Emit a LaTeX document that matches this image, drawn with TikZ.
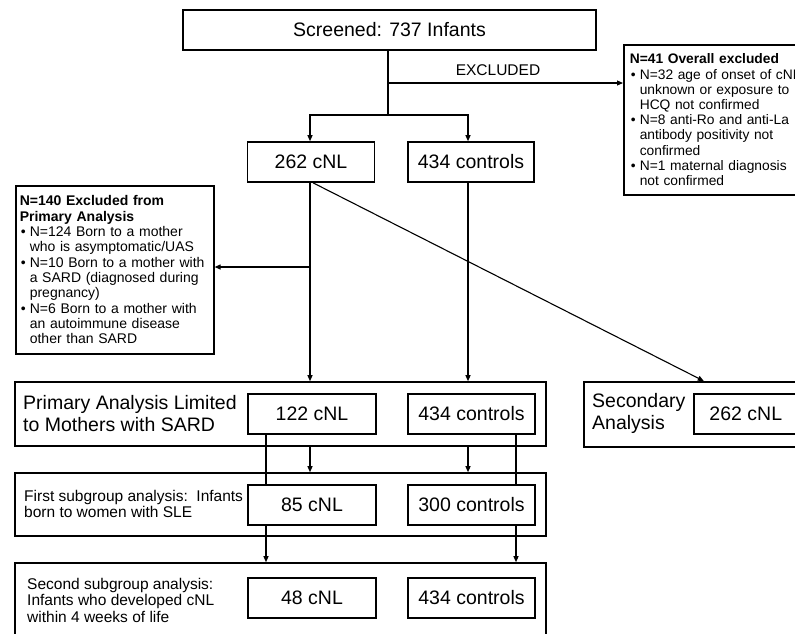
\documentclass[tikz,border=0pt]{standalone}
\usepackage{fontspec}
\setmainfont{Liberation Sans}
\usetikzlibrary{arrows.meta}
\newcommand{\bitem}[1]{\par\noindent\hangindent=10pt\hangafter=1\makebox[10pt][l]{\hspace{1pt}\textbullet}#1\par}
\begin{document}
\begin{tikzpicture}[x=1pt,y=-1pt,
  box/.style={draw,line width=1.6pt,fill=white,inner sep=0pt},
  conn/.style={line width=1.1pt},
  arr/.style={conn,-{Triangle[length=6pt,width=5pt]}},
  big/.style={font=\fontsize{19.5}{22}\selectfont},
  mid/.style={font=\fontsize{15.5}{16.5}\selectfont},
  small/.style={font=\fontsize{13.8}{15.2}\selectfont},
  cell/.style={box,big,minimum width=127pt,minimum height=40pt},
  lab/.style={anchor=west,align=left,inner sep=0pt}]
\useasboundingbox (0,0) rectangle (795,633);
\clip (0,0) rectangle (795,633);

% top
\node[box,big,minimum width=413pt,minimum height=40pt] (scr) at (389.5,30) {Screened: 737 Infants};
\node[cell] (cnlA) at (311,162) {262 cNL};
\node[cell,minimum width=126pt] (ctlA) at (471,162) {434 controls};

\node[box,small,anchor=north west,text width=195pt,inner xsep=6pt,inner ysep=0pt,minimum height=150pt,align=left] (exr) at (623,44)
{\textbf{N=41 Overall excluded}
\bitem{N=32 age of onset of cNL\newline unknown or exposure to\newline HCQ not confirmed}
\bitem{N=8 anti-Ro and anti-La\newline antibody positivity not\newline confirmed}
\bitem{N=1 maternal diagnosis\newline not confirmed}};

\node[box,font=\fontsize{14}{15.3}\selectfont,anchor=north west,text width=190pt,inner xsep=4pt,inner ysep=0pt,minimum height=168pt,align=left] (exl) at (15,185)
{\textbf{N=140 Excluded from\newline Primary Analysis}
\bitem{N=124 Born to a mother\newline who is asymptomatic/UAS}
\bitem{N=10 Born to a mother with\newline a SARD (diagnosed during\newline pregnancy)}
\bitem{N=6 Born to a mother with\newline an autoimmune disease\newline other than SARD}};

% primary
\node[box,minimum width=531pt,minimum height=64pt] (pri) at (280.5,414) {};
\node[big,lab] (priL) at (23,414) {Primary Analysis Limited\\to Mothers with SARD};
\node[cell,minimum width=128pt] (cnlB) at (312,414) {122 cNL};
\node[cell] (ctlB) at (471.5,414) {434 controls};

% secondary
\node[box,anchor=north west,minimum width=250pt,minimum height=65pt] (sec) at (583,381) {};
\node[big,lab] (secL) at (592,413.5) {Secondary\\Analysis};
\node[cell,anchor=west,minimum width=104pt] (cnlS) at (693,414) {262 cNL};

% first subgroup
\node[box,minimum width=531pt,minimum height=63pt] (fst) at (280.5,504.5) {};
\node[mid,lab] (fstL) at (24,504) {First subgroup analysis:\ \ Infants\\born to women with SLE};
\node[cell,minimum width=128pt] (cnlC) at (312,505) {85 cNL};
\node[cell] (ctlC) at (471.5,505) {300 controls};

% second subgroup
\node[box,minimum width=531pt,minimum height=82pt] (snd) at (280.5,604) {};
\node[mid,lab] (sndL) at (27,600) {Second subgroup analysis:\\Infants who developed cNL\\within 4 weeks of life};
\node[cell,minimum width=128pt] (cnlD) at (312,598) {48 cNL};
\node[cell] (ctlD) at (471.5,598) {434 controls};

% connectors
\coordinate (br) at (388,115);
\coordinate (ex) at (388,83);
\coordinate (xL) at (310,0);
\coordinate (xR) at (468,0);
\coordinate (xLL) at (266,0);
\coordinate (xRR) at (516,0);
\coordinate (lj) at (310,267);

\draw[conn] (scr.south -| br) -- (br);
\draw[arr] (br) -| (cnlA.north -| xL);
\draw[arr] (br) -| (ctlA.north -| xR);
\draw[arr] (ex) -- (ex -| exr.west);
\node[font=\fontsize{15.5}{18}\selectfont] (exlab) at (498,70) {EXCLUDED};

\draw[arr] (cnlA.south -| xL) -- (pri.north -| xL);
\draw[arr] (ctlA.south -| xR) -- (pri.north -| xR);
\draw[arr] (lj) -- (lj -| exl.east);
\draw[arr] ([xshift=2pt]cnlA.south) -- ([xshift=-5pt]sec.north);

\draw[arr] (pri.south -| xL) -- (fst.north -| xL);
\draw[arr] (pri.south -| xR) -- (fst.north -| xR);

\draw[conn] (cnlB.south -| xLL) -- (cnlC.north -| xLL);
\draw[arr] (cnlC.south -| xLL) -- (snd.north -| xLL);
\draw[conn] (ctlB.south -| xRR) -- (ctlC.north -| xRR);
\draw[arr] (ctlC.south -| xRR) -- (snd.north -| xRR);
\end{tikzpicture}
\end{document}
